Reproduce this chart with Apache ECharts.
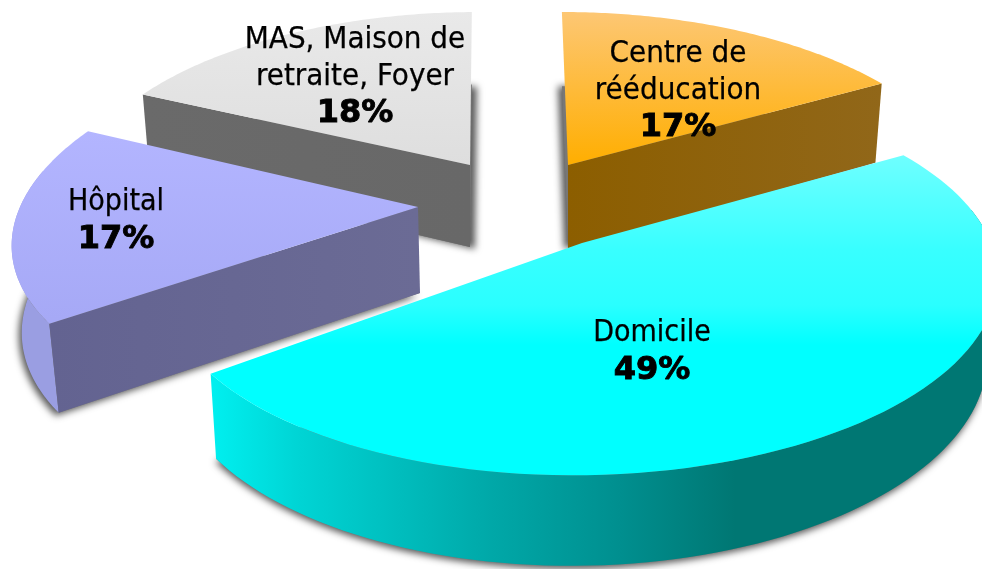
<!DOCTYPE html>
<html>
<head>
<meta charset="utf-8">
<style>html,body{margin:0;padding:0;background:#fff}#c{width:982px;height:569px}</style>
<script src="https://cdn.jsdelivr.net/npm/echarts@6/dist/echarts.min.js"></script>
</head>
<body>
<div id="c"></div>
<script>
// Data, clockwise from the top of the pie
const categories = ["Centre de\nrééducation", "Domicile", "Hôpital", "MAS, Maison de\nretraite, Foyer"];
const values = [17, 49, 17, 18];

// Projection of each exploded slice (styling only, no data)
const layout = [
  {ax:568, ay:165, f:396, g:180.5, k:.18, shear:.04, rot:1, d:84, dx:0, lift:0, face:'end', z:20, lx:678, ly:91, fs:31,
   top:[[12,'#fdc774'],[165,'#ffae00']], topY:[12,165], wall:'#8c6116',
   face0:'#8c5e00', face1:'#916719', sx:-4, sy:0},
  {ax:582, ay:246, f:410, g:188, k:.18, shear:-.04, rot:-1.5, d:78, dx:-2, lift:3, face:null, z:40, lx:652, ly:352, fs:30,
   top:[[155,'#6fffff'],[250,'#38ffff'],[305,'#2affff'],[345,'#00ffff']], topY:[155,345], wall:null,
   sx:-1, sy:3},
  {ax:418, ay:207, f:398, g:188, k:.10, shear:-.22, rot:0, d:86, dx:2, lift:0, face:'start', z:30, lx:116, ly:221, fs:30,
   top:[[130,'#b3b5ff'],[320,'#a6a9f6']], topY:[130,320], wall:'#9a9ee2',
   face0:'#636391', face1:'#6b6b95', sx:-3, sy:3},
  {ax:470, ay:165, f:392, g:180.5, k:.18, shear:-.05, rot:0, d:82, dx:0, lift:0, face:'start', z:10, lx:355, ly:77, fs:31,
   top:[[12,'#e9e9e9'],[165,'#dedede']], topY:[12,165], wall:'#8f8f8f',
   face0:'#6a6a6a', face1:'#686868', sx:5, sy:2}
];
const startAngle = -91, bottomScale = 0.98;
const total = values.reduce((a, b) => a + b, 0);
const spans = [];
values.reduce((acc, v) => { const e = acc + v / total * 360; spans.push([acc, e]); return e; }, startAngle);

function project(L, deg, down) {
  const t = (deg + L.rot) * Math.PI / 180, s = Math.sin(t), c = Math.cos(t), w = 1 - L.k * s;
  const yy = L.g * s / w, xx = L.f * c / w + L.shear * yy;
  if (!down) return [L.ax + xx, L.ay + yy];
  return [L.ax + L.dx + xx * bottomScale, L.ay + yy * bottomScale + L.d / w];
}
function arc(L, a, b, down) {
  const n = 90, out = [];
  for (let i = 0; i <= n; i++) out.push(project(L, a + (b - a) * i / n, down));
  return out;
}
function grad(x1, y1, x2, y2, stops) {
  const span = (x2 - x1) + (y2 - y1), origin = x1 + y1;
  return {type:'linear', x:x1, y:y1, x2:x2, y2:y2, global:true,
    colorStops: stops.map(s => ({offset:(s[0] - origin) / span, color:s[1]}))};
}
function renderItem(params, api) {
  const i = params.dataIndex, L = layout[i], a = spans[i][0], b = spans[i][1];
  const children = [];
  const add = (pts, style) => children.push({type:'polygon', z2:L.z, shape:{points:pts}, style});
  const apex = [L.ax, L.ay - L.lift], apexD = [L.ax + L.dx, L.ay + L.d];
  // bottom cap carrying the soft shadow
  add([apexD].concat(arc(L, a, b, true)), {fill:'#777', shadowColor:'rgba(0,0,0,.65)', shadowBlur:7, shadowOffsetX:L.sx, shadowOffsetY:L.sy});
  // outer wall: only the part turned towards the viewer
  const wa = [], steps = 180;
  for (let j = 0; j <= steps; j++) {
    const th = a + (b - a) * j / steps;
    if (Math.sin((th + L.rot) * Math.PI / 180) > -0.2) wa.push(th);
  }
  if (wa.length > 1) {
    const lo = wa[0], hi = wa[wa.length - 1];
    const wallFill = L.wall || grad(210, 0, 990, 0, [[210,'#00f0f0'],[300,'#00d4d4'],[491,'#00a8a8'],[620,'#008f8f'],[735,'#007773'],[990,'#007773']]);
    add(arc(L, lo, hi, false).concat(arc(L, lo, hi, true).reverse()), {fill:wallFill});
  }
  // radial face
  if (L.face) {
    const e = L.face === 'end' ? b : a;
    const p = project(L, e, false), q = project(L, e, true);
    const x0 = Math.min(p[0], L.ax), x1 = Math.max(p[0], L.ax);
    add([apex, p, q, apexD], {fill:grad(x0, 0, x1, 0, [[x0,L.face0],[x1,L.face1]])});
  }
  // top face
  add([apex].concat(arc(L, a, b, false)), {fill:grad(0, L.topY[0], 0, L.topY[1], L.top)});
  // label
  children.push({type:'text', z2:L.z + 1, style:{
    x:L.lx, y:L.ly, align:'center', verticalAlign:'middle',
    text: categories[i].split('\n').map(t => '{n|' + t + '}').join('\n') + '\n{b|' + api.value(1) + '%}',
    fill:'#000',
    rich:{
      n:{fontFamily:'"DejaVu Sans Condensed","DejaVu Sans"', fontSize:L.fs, lineHeight:37, fill:'#000', align:'center', stroke:'#000', lineWidth:.25},
      b:{fontFamily:'"DejaVu Sans"', fontWeight:'bold', fontSize:32, lineHeight:37, fill:'#000', align:'center', stroke:'#000', lineWidth:.9}
    }
  }});
  return {type:'group', children};
}
const chart = echarts.init(document.getElementById('c'), null, {renderer:'canvas', width:982, height:569});
chart.setOption({
  animation:false,
  backgroundColor:'#fff',
  series:[{
    type:'custom',
    coordinateSystem:'none',
    renderItem,
    silent:true,
    clip:false,
    data: values.map((v, i) => ({name:categories[i], value:[i, v]}))
  }]
});
</script>
</body>
</html>
